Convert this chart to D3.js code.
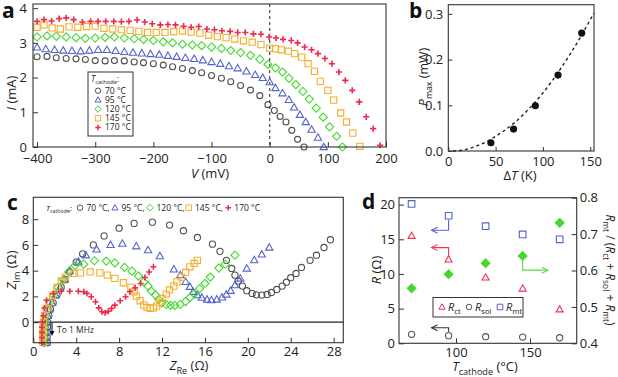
<!DOCTYPE html>
<html>
<head>
<meta charset="utf-8">
<script src="https://cdn.jsdelivr.net/npm/d3@7"></script>
<style>
  body { margin: 0; background: #fff; }
  svg { display: block; font-family: "Open Sans", sans-serif; }
</style>
</head>
<body>
<svg id="fig" width="618" height="377"></svg>
<script>
// ---------- panel a : current vs voltage ----------
var ivV70 = [-400,-383,-367,-350,-333,-317,-300,-283,-267,-250,-233,-217,-200,-183,-167,-150,-133,-117,-100,-83,-67,-50,-33,-17,-3,8,18,28,38,48,59];
var ivI70 = [2.60,2.61,2.57,2.55,2.54,2.52,2.49,2.48,2.49,2.48,2.45,2.43,2.40,2.36,2.31,2.26,2.20,2.14,2.06,1.98,1.88,1.77,1.64,1.48,1.22,1.05,0.88,0.72,0.48,0.22,0.00];
var ivV95 = [-400,-385,-370,-355,-340,-325,-310,-295,-280,-265,-250,-235,-220,-205,-190,-175,-160,-145,-130,-115,-100,-85,-70,-55,-40,-25,-12,0,10,22,33,42,52,62,72,83,93];
var ivI95 = [2.87,2.82,2.80,2.78,2.77,2.76,2.78,2.80,2.80,2.77,2.74,2.72,2.70,2.68,2.66,2.63,2.60,2.57,2.54,2.50,2.45,2.40,2.33,2.27,2.18,2.08,1.99,1.87,1.70,1.55,1.36,1.14,0.93,0.72,0.50,0.27,0.00];
var ivV120 = [-400,-383,-367,-350,-333,-317,-300,-283,-267,-250,-233,-217,-200,-183,-167,-150,-133,-117,-100,-83,-67,-50,-33,-17,-3,10,22,33,45,57,68,80,92,103,115,125];
var ivI120 = [3.17,3.20,3.19,3.17,3.15,3.13,3.14,3.16,3.17,3.14,3.12,3.10,3.07,3.03,3.00,2.96,2.94,2.92,2.88,2.84,2.78,2.72,2.64,2.53,2.38,2.28,2.16,1.98,1.80,1.60,1.38,1.12,0.86,0.58,0.31,0.00];
var ivV145 = [-400,-388,-374,-360,-345,-330,-315,-300,-285,-270,-255,-240,-225,-210,-195,-180,-165,-150,-135,-120,-105,-90,-75,-60,-45,-30,-15,0,10,20,32,43,55,66,77,87,100,110,122,132,143,155];
var ivI145 = [3.45,3.52,3.43,3.40,3.46,3.45,3.47,3.48,3.42,3.40,3.38,3.36,3.33,3.30,3.30,3.30,3.32,3.34,3.31,3.28,3.22,3.18,3.15,3.11,3.06,3.02,2.95,2.85,2.83,2.80,2.76,2.69,2.59,2.40,2.18,1.89,1.63,1.35,0.98,0.72,0.40,0.02];
var ivV170 = [-400,-388,-375,-362,-350,-337,-322,-308,-295,-282,-268,-255,-242,-228,-215,-202,-188,-175,-162,-148,-135,-122,-108,-95,-82,-68,-55,-42,-28,-15,-1,11,23,37,48,60,72,83,95,107,119,130,142,154,166,178,190];
var ivI170 = [3.62,3.67,3.63,3.70,3.72,3.67,3.60,3.62,3.62,3.62,3.62,3.61,3.62,3.66,3.60,3.55,3.52,3.53,3.52,3.48,3.45,3.47,3.40,3.38,3.35,3.33,3.30,3.30,3.26,3.25,3.17,3.14,3.10,3.07,3.00,2.88,2.80,2.69,2.55,2.40,2.16,1.92,1.63,1.30,0.87,0.53,0.05];
var aTicksX = [-400,-300,-200,-100,0,100,200];
var aTicksY = [0,1,2,3,4];

// ---------- panel b : max power vs delta T ----------
var bDeltaT = [45, 69, 92, 116, 141];
var bPmax = [0.018, 0.048, 0.099, 0.166, 0.258];
var fitDeltaT = [5, 20, 30, 40, 50, 60, 70, 80, 90, 100, 110, 120, 130, 140, 150, 154];
var fitPmax = [0, 0.004, 0.011, 0.020, 0.032, 0.046, 0.062, 0.081, 0.103, 0.127, 0.154, 0.184, 0.216, 0.250, 0.287, 0.302];
var bTicksX = [0, 50, 100, 150];
var bTicksY = [0, 0.1, 0.2, 0.3];

// ---------- panel c : Nyquist plots ----------
var zRe70 = [1.30,1.30,1.30,1.32,1.35,1.45,1.6,1.85,2.2,2.6,3.0,3.4,4.0,4.6,5.6,6.6,8.0,9.4,11.1,12.7,14.0,15.3,16.7,17.4,18.0,18.5,18.8,19.1,19.5,19.9,20.4,20.8,21.3,21.8,22.2,22.7,23.2,23.6,24.0,24.5,25.0,25.8,26.4,27.1,27.7];
var zIm70 = [-1.6,-1.2,-0.8,-0.4,0.0,0.5,1.0,1.5,2.1,2.7,3.3,3.9,4.66,5.3,6.0,6.7,7.3,7.67,7.77,7.54,7.1,6.58,6.06,5.5,4.8,4.17,3.65,3.2,2.8,2.44,2.23,2.12,2.10,2.15,2.30,2.54,2.80,3.10,3.45,3.78,4.25,4.8,5.2,5.8,6.4];
var zRe95 = [1.2,1.2,1.2,1.22,1.25,1.35,1.5,1.75,2.1,2.5,2.9,3.4,4.2,4.9,5.9,7.2,8.3,9.6,10.7,11.8,13.1,13.7,14.2,14.6,14.9,15.3,15.7,16.2,16.6,17.1,17.6,18.0,18.4,18.8,19.3,19.9,20.6,21.3,22.0];
var zIm95 = [-1.6,-1.2,-0.8,-0.4,0.0,0.5,1.0,1.5,2.1,2.7,3.3,4.0,4.7,5.2,5.65,6.0,6.1,5.9,5.6,5.13,4.1,3.65,3.13,2.75,2.36,2.1,1.9,1.76,1.71,1.76,1.92,2.15,2.44,2.87,3.39,4.17,4.82,5.26,5.8];
var zRe120 = [1.0,1.0,1.0,1.02,1.05,1.15,1.3,1.55,1.9,2.3,2.8,3.3,3.9,4.7,5.7,6.8,7.6,8.5,9.2,9.8,10.3,10.7,11.0,11.4,11.7,12.0,12.4,12.8,13.2,13.7,14.2,14.6,15.0,15.5,16.0,16.5,17.3,17.9,18.8];
var zIm120 = [-1.6,-1.2,-0.8,-0.4,0.0,0.5,1.0,1.5,2.1,2.7,3.3,3.9,4.4,4.5,4.77,4.74,4.6,4.25,3.96,3.58,3.13,2.8,2.41,2.1,1.76,1.5,1.37,1.3,1.3,1.37,1.6,1.9,2.2,2.6,3.0,3.5,4.2,4.5,5.2];
var zRe145 = [0.9,0.9,0.9,0.92,0.95,1.05,1.2,1.45,1.8,2.2,2.6,3.0,3.7,4.4,5.3,6.2,6.9,7.6,8.4,9.1,9.4,9.6,9.96,10.3,10.6,10.9,11.2,11.5,11.8,12.0,12.4,12.7,13.1,13.4,13.8,14.2,14.6,15.0,15.3];
var zIm145 = [-1.6,-1.2,-0.8,-0.4,0.0,0.5,1.0,1.5,2.1,2.7,3.2,3.5,3.78,3.83,3.9,3.83,3.65,3.4,3.06,2.7,2.36,2.02,1.66,1.32,1.14,1.06,1.11,1.24,1.5,1.84,2.18,2.5,2.8,3.13,3.5,3.86,4.3,4.56,4.8];
var zRe170 = [0.8,0.8,0.8,0.82,0.85,0.93,1.05,1.24,1.87,2.6,3.4,4.2,4.7,5.0,5.4,5.8,6.1,6.4,6.7,7.0,7.3,7.6,8.1,8.6,9.0,9.5,10.0,10.4,10.8,11.2];
var zIm170 = [-1.6,-1.2,-0.8,-0.4,0.0,0.5,1.1,1.7,2.2,2.4,2.4,2.4,2.36,2.23,1.97,1.58,1.11,0.8,0.73,0.85,1.06,1.32,1.66,1.97,2.36,2.67,3.0,3.47,3.9,4.3];
var cTicksX = [0,4,8,12,16,20,24,28];
var cTicksY = [0,2,4,6,8];

// ---------- panel d : resistances vs cathode temperature ----------
var dTemp = [70, 95, 120, 145, 170];
var dRct = [15.5, 12.1, 9.5, 7.9, 4.9];
var dRsol = [1.3, 1.1, 0.95, 0.9, 0.8];
var dRmt = [20.1, 18.4, 16.9, 15.7, 15.0];
var dRatio = [0.551, 0.59, 0.62, 0.64, 0.731];
var dTicksX = [100, 150];
var dTicksY = [0, 5, 10, 15, 20];
var dTicksY2 = [0.4, 0.5, 0.6, 0.7, 0.8];

var tempLabels = ["70 °C", "95 °C", "120 °C", "145 °C", "170 °C"];
var colors = ["#505050", "#5563cc", "#44d82c", "#f6ae2d", "#ef2a4d"];
var shapes = ["circle", "triangle", "diamond", "square", "plus"];

var svg = d3.select("#fig");
svg.append("rect").attr("width", 618).attr("height", 377).attr("fill", "#fff");

function markPath(kind, r) {
  var p = d3.path();
  if (kind == "circle") { p.moveTo(r, 0); p.arc(0, 0, r, 0, 2 * Math.PI); }
  else if (kind == "triangle") { p.moveTo(0, -r * 1.15); p.lineTo(r * 1.1, r * 0.8); p.lineTo(-r * 1.1, r * 0.8); p.closePath(); }
  else if (kind == "diamond") { p.moveTo(0, -r * 1.2); p.lineTo(r * 1.2, 0); p.lineTo(0, r * 1.2); p.lineTo(-r * 1.2, 0); p.closePath(); }
  else if (kind == "square") { p.rect(-r, -r, 2 * r, 2 * r); }
  else { p.moveTo(-r, 0); p.lineTo(r, 0); p.moveTo(0, -r); p.lineTo(0, r); }
  return p.toString();
}

function drawMarks(g, xs, ys, sx, sy, kind, color, r, filled) {
  g.append("g").selectAll("path").data(d3.zip(xs, ys)).join("path")
    .attr("transform", function (d) { return "translate(" + sx(d[0]) + "," + sy(d[1]) + ")"; })
    .attr("d", markPath(kind, r))
    .attr("fill", filled ? color : "none")
    .attr("stroke", color)
    .attr("stroke-width", kind == "plus" ? 1.6 : 1.1);
}

// text made of parts: {t, i (italic), sub}
function richText(g, x, y, parts, size, anchor, rot, subRatio) {
  var sr = subRatio || 0.7;
  var t = g.append("text").attr("font-size", size).attr("fill", "#222")
    .attr("text-anchor", anchor || "start")
    .attr("transform", "translate(" + x + "," + y + ")" + (rot ? "rotate(" + rot + ")" : ""));
  var down = false;
  parts.forEach(function (p) {
    var s = t.append("tspan").text(p.t);
    if (p.i) s.attr("font-style", "italic");
    if (p.sub) {
      s.attr("font-size", size * sr);
      if (!down) { s.attr("dy", size * 0.28); down = true; }
    } else if (down) {
      s.attr("dy", -size * 0.28); down = false;
    }
  });
  return t;
}

function frame(g, x0, y0, x1, y1) {
  g.append("rect").attr("x", x0).attr("y", y0).attr("width", x1 - x0).attr("height", y1 - y0)
    .attr("fill", "none").attr("stroke", "#333").attr("stroke-width", 1.1);
}

function styleAxis(sel) {
  sel.select(".domain").remove();
  sel.selectAll(".tick line").attr("stroke", "#333");
  sel.selectAll(".tick text").attr("font-size", 13).attr("fill", "#222").attr("font-family", "Open Sans, sans-serif");
}

function panelLetter(x, y, s) {
  svg.append("text").attr("x", x).attr("y", y).attr("font-size", 21).attr("font-weight", "bold").attr("fill", "#111").text(s);
}

// ================= panel a =================
var gA = svg.append("g");
var xA = d3.scaleLinear().domain([-407, 200]).range([33, 386]);
var yA = d3.scaleLinear().domain([0, 4.12]).range([147, 4]);

gA.append("line").attr("x1", xA(0)).attr("x2", xA(0)).attr("y1", yA(4.12)).attr("y2", yA(0))
  .attr("stroke", "#555").attr("stroke-width", 1.3).attr("stroke-dasharray", "3,3");

gA.append("g").attr("transform", "translate(0,147)")
  .call(d3.axisBottom(xA).tickValues(aTicksX).tickFormat(d3.format("d")).tickSizeInner(-5).tickSizeOuter(0).tickPadding(7))
  .call(styleAxis);
gA.append("g").attr("transform", "translate(33,0)")
  .call(d3.axisLeft(yA).tickValues(aTicksY).tickFormat(d3.format("d")).tickSizeInner(-5).tickSizeOuter(0).tickPadding(6))
  .call(styleAxis);

var ivV = [ivV70, ivV95, ivV120, ivV145, ivV170];
var ivI = [ivI70, ivI95, ivI120, ivI145, ivI170];
var aR = [3, 3.3, 3.4, 3.1, 3.1];
for (var s = 0; s < 5; s++) drawMarks(gA, ivV[s], ivI[s], xA, yA, shapes[s], colors[s], aR[s], false);
frame(gA, 33, 4, 386, 147);

// legend a
gA.append("rect").attr("x", 88).attr("y", 72).attr("width", 45).attr("height", 64)
  .attr("fill", "#fff").attr("stroke", "#333").attr("stroke-width", 1);
richText(gA, 91, 81.5, [{ t: "T", i: true }, { t: "cathode", sub: true }, { t: ":" }], 8.5, "start", 0, 0.68);
tempLabels.forEach(function (lab, k) {
  var yy = 90.7 + k * 9.2;
  gA.append("path").attr("transform", "translate(98," + yy + ")").attr("d", markPath(shapes[k], 2.7))
    .attr("fill", "none").attr("stroke", colors[k]).attr("stroke-width", shapes[k] == "plus" ? 1.5 : 1);
  gA.append("text").attr("x", 105).attr("y", yy).attr("dy", "0.35em").attr("font-size", 8.5).attr("fill", "#222").text(lab);
});

richText(gA, 16, 93, [{ t: "I", i: true }, { t: " (mA)" }], 13, "middle", -90);
richText(gA, 210, 177.5, [{ t: "V", i: true }, { t: " (mV)" }], 13, "middle");
panelLetter(2, 18, "a");

// ================= panel b =================
var gB = svg.append("g");
var xB = d3.scaleLinear().domain([0, 154]).range([448.3, 594]);
var yB = d3.scaleLinear().domain([0, 0.32]).range([151, 4.7]);

gB.append("g").attr("transform", "translate(0,151)")
  .call(d3.axisBottom(xB).tickValues(bTicksX).tickFormat(d3.format("d")).tickSizeInner(-4).tickSizeOuter(0).tickPadding(6))
  .call(styleAxis);
gB.append("g").attr("transform", "translate(448.3,0)")
  .call(d3.axisLeft(yB).tickValues(bTicksY).tickFormat(d3.format(".1f")).tickSizeInner(-4).tickSizeOuter(0).tickPadding(5))
  .call(styleAxis);

gB.append("path").datum(d3.zip(fitDeltaT, fitPmax))
  .attr("d", d3.line().curve(d3.curveMonotoneX).x(function (d) { return xB(d[0]); }).y(function (d) { return yB(d[1]); }))
  .attr("fill", "none").attr("stroke", "#222").attr("stroke-width", 1.4).attr("stroke-dasharray", "3,3");
gB.append("g").selectAll("circle").data(d3.zip(bDeltaT, bPmax)).join("circle")
  .attr("cx", function (d) { return xB(d[0]); }).attr("cy", function (d) { return yB(d[1]); })
  .attr("r", 3.6).attr("fill", "#111");
frame(gB, 448.3, 4.7, 594, 151);

richText(gB, 428, 77, [{ t: "P", i: true }, { t: "max", sub: true }, { t: " (mW)" }], 12.5, "middle", -90);
richText(gB, 520, 180, [{ t: "Δ" }, { t: "T", i: true }, { t: " (K)" }], 13, "middle");
panelLetter(409, 18, "b");

// ================= panel c =================
var gC = svg.append("g");
var xC = d3.scaleLinear().domain([0, 28.9]).range([33.3, 343.3]);
var yC = d3.scaleLinear().domain([-1.6, 9.7]).range([342.7, 197.3]);

gC.append("g").attr("transform", "translate(0,342.7)")
  .call(d3.axisBottom(xC).tickValues(cTicksX).tickFormat(d3.format("d")).tickSizeInner(-5).tickSizeOuter(0).tickPadding(4))
  .call(styleAxis);
gC.append("g").attr("transform", "translate(33.3,0)")
  .call(d3.axisLeft(yC).tickValues(cTicksY).tickFormat(d3.format("d")).tickSizeInner(-5).tickSizeOuter(0).tickPadding(4))
  .call(styleAxis);
gC.append("line").attr("x1", 33.3).attr("x2", 343.3).attr("y1", yC(0)).attr("y2", yC(0))
  .attr("stroke", "#222").attr("stroke-width", 1.1);

var zRe = [zRe70, zRe95, zRe120, zRe145, zRe170];
var zIm = [zIm70, zIm95, zIm120, zIm145, zIm170];
var cR = [3.1, 3.3, 3.4, 3.1, 3.0];
for (var s2 = 0; s2 < 5; s2++) drawMarks(gC, zRe[s2], zIm[s2], xC, yC, shapes[s2], colors[s2], cR[s2], false);
frame(gC, 33.3, 197.3, 343.3, 342.7);

// arrow "To 1 MHz"
gC.append("line").attr("x1", 52).attr("x2", 52).attr("y1", yC(0) + 1).attr("y2", 333)
  .attr("stroke", "#111").attr("stroke-width", 1.1);
gC.append("path").attr("d", "M49.5,331 L52,336 L54.5,331 Z").attr("fill", "#111");
gC.append("text").attr("x", 57).attr("y", 330).attr("dy", "0.35em").attr("font-size", 8.5).attr("fill", "#222").text("To 1 MHz");

// legend c
richText(gC, 46, 210.5, [{ t: "T", i: true }, { t: "cathode", sub: true }, { t: ":" }], 8, "start", 0, 0.66);
var cLegSym = [80, 115, 150, 188.7, 228.3];
var cLegTxt = [86.5, 121.5, 156.5, 195, 234.3];
tempLabels.forEach(function (lab, k) {
  gC.append("path").attr("transform", "translate(" + cLegSym[k] + ",207.7)").attr("d", markPath(shapes[k], 2.8))
    .attr("fill", "none").attr("stroke", colors[k]).attr("stroke-width", shapes[k] == "plus" ? 1.5 : 1);
  gC.append("text").attr("x", cLegTxt[k]).attr("y", 207.7).attr("dy", "0.35em").attr("font-size", 8.5)
    .attr("fill", "#222").text(lab + (k < 4 ? "," : ""));
});

richText(gC, 16, 270, [{ t: "Z", i: true }, { t: "Im", sub: true }, { t: " (Ω)" }], 13, "middle", -90);
richText(gC, 189, 370, [{ t: "Z", i: true }, { t: "Re", sub: true }, { t: " (Ω)" }], 13, "middle");
panelLetter(7, 210, "c");

// ================= panel d =================
var gD = svg.append("g");
var xD = d3.scaleLinear().domain([61.5, 181.5]).range([399, 576.7]);
var yD = d3.scaleLinear().domain([0, 21]).range([343.3, 197.7]);
var yD2 = d3.scaleLinear().domain([0.4, 0.8]).range([343.3, 197.7]);

gD.append("g").attr("transform", "translate(0,343.3)")
  .call(d3.axisBottom(xD).tickValues(dTicksX).tickFormat(d3.format("d")).tickSizeInner(-5).tickSizeOuter(0).tickPadding(4))
  .call(styleAxis);
gD.append("g").attr("transform", "translate(399,0)")
  .call(d3.axisLeft(yD).tickValues(dTicksY).tickFormat(d3.format("d")).tickSizeInner(-5).tickSizeOuter(0).tickPadding(4))
  .call(styleAxis);
gD.append("g").attr("transform", "translate(576.7,0)")
  .call(d3.axisRight(yD2).tickValues(dTicksY2).tickFormat(d3.format(".1f")).tickSizeInner(-5).tickSizeOuter(0).tickPadding(3))
  .call(styleAxis);

drawMarks(gD, dTemp, dRct, xD, yD, "triangle", "#ee3355", 3.2, false);
drawMarks(gD, dTemp, dRsol, xD, yD, "circle", "#555", 3.1, false);
drawMarks(gD, dTemp, dRmt, xD, yD, "square", "#5563cc", 3.3, false);
drawMarks(gD, dTemp, dRatio, xD, yD2, "diamond", "#44d82c", 3.6, true);
frame(gD, 399, 197.7, 576.7, 343.3);

// axis-pointer arrows
function elbow(pts, color) {
  gD.append("path").attr("d", d3.line()(pts)).attr("fill", "none").attr("stroke", color).attr("stroke-width", 1.1);
  var n = pts.length, a = pts[n - 2], b = pts[n - 1];
  var dir = b[0] > a[0] ? 1 : -1;
  gD.append("path").attr("d", "M" + (b[0] - dir * 6) + "," + (b[1] - 3) + "L" + b[0] + "," + b[1] + "L" + (b[0] - dir * 6) + "," + (b[1] + 3))
    .attr("fill", "none").attr("stroke", color).attr("stroke-width", 1.1);
}
elbow([[xD(95), yD(dRmt[1]) + 4], [xD(95), yD(16.3)], [xD(83.5), yD(16.3)]], "#5563cc");
elbow([[xD(95), yD(dRct[1]) - 4], [xD(95), yD(13.8)], [xD(83.5), yD(13.8)]], "#ee3355");
elbow([[xD(95), yD(dRsol[1]) - 4], [xD(95), yD(2.25)], [xD(83.5), yD(2.25)]], "#333");
elbow([[xD(145), yD2(dRatio[3]) + 4], [xD(145), yD2(0.601)], [xD(162), yD2(0.601)]], "#55e044");

// legend d
gD.append("rect").attr("x", 433).attr("y", 297.5).attr("width", 90).attr("height", 19.5)
  .attr("fill", "#fff").attr("stroke", "#333").attr("stroke-width", 1);
var dLeg = [
  { x: 442, kind: "triangle", c: "#ee3355", sub: "ct" },
  { x: 469, kind: "circle", c: "#555", sub: "sol" },
  { x: 500, kind: "square", c: "#5563cc", sub: "mt" }
];
dLeg.forEach(function (e) {
  gD.append("path").attr("transform", "translate(" + e.x + ",307)").attr("d", markPath(e.kind, 2.8))
    .attr("fill", "none").attr("stroke", e.c).attr("stroke-width", 1);
  richText(gD, e.x + 6, 310.5, [{ t: "R", i: true }, { t: e.sub, sub: true }], 11);
});

richText(gD, 381, 270, [{ t: "R", i: true }, { t: " (Ω)" }], 13, "middle", -90);
richText(gD, 485, 371, [{ t: "T", i: true }, { t: "cathode", sub: true }, { t: " (°C)" }], 13, "middle");
richText(gD, 606, 270, [{ t: "R", i: true }, { t: "mt", sub: true }, { t: " / (" }, { t: "R", i: true }, { t: "ct", sub: true },
  { t: " + " }, { t: "R", i: true }, { t: "sol", sub: true }, { t: " + " }, { t: "R", i: true }, { t: "mt", sub: true }, { t: ")" }],
  12, "middle", 90);
panelLetter(362, 209, "d");
</script>
</body>
</html>
